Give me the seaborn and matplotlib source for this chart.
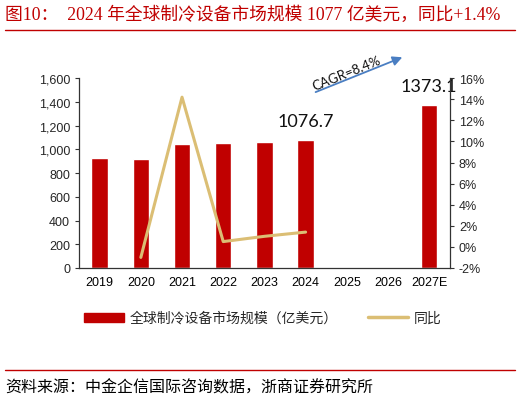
import numpy as np
import pandas as pd
import matplotlib
matplotlib.use("Agg")
import matplotlib.pyplot as plt
from matplotlib.ticker import FuncFormatter, FixedLocator
from matplotlib.patches import Patch
from matplotlib.lines import Line2D
import seaborn as sns

# data
years = ["2019", "2020", "2021", "2022", "2023", "2024", "2025", "2026", "2027E"]
market_size = [925, 915, 1048, 1052, 1062, 1076.7, np.nan, np.nan, 1373.1]
yoy_years = ["2020", "2021", "2022", "2023", "2024"]
yoy_pct = [-1.0, 14.2, 0.5, 1.0, 1.4]
bar_label = "全球制冷设备市场规模（亿美元）"
line_label = "同比"
title = "图10：  2024 年全球制冷设备市场规模 1077 亿美元，同比+1.4%"
source = "资料来源：中金企信国际咨询数据，浙商证券研究所"

sns.set_style("white")
plt.rcParams["font.family"] = ["Liberation Sans", "Noto Sans CJK SC"]

RED = "#C00000"
TAN = "#DBBE74"

df = pd.DataFrame({"year": years, "size": market_size})
fig = plt.figure(figsize=(5.2, 4.02), dpi=100)
ax = fig.add_axes([0.152, 0.331, 0.713, 0.472])

sns.barplot(data=df, x="year", y="size", order=years, color=RED,
            width=0.4, ax=ax, saturation=1, errorbar=None)
ax.set_xlim(-0.5, len(years) - 0.5)
ax.set_ylim(0, 1600)
ax.set_yticks(np.arange(0, 1601, 200))
ax.yaxis.set_major_formatter(FuncFormatter(lambda v, p: f"{int(v):,}"))
ax.set_xlabel("")
ax.set_ylabel("")

ax2 = ax.twinx()
line_df = pd.DataFrame({"x": [years.index(y) for y in yoy_years], "yoy": yoy_pct})
sns.lineplot(data=line_df, x="x", y="yoy", ax=ax2, color=TAN, linewidth=2.2)
ax2.set_ylim(-2, 16)
ax2.set_yticks(np.arange(-2, 17, 2))
ax2.yaxis.set_major_formatter(FuncFormatter(lambda v, p: f"{int(v)}%"))
ax2.set_xlim(-0.5, len(years) - 0.5)
ax2.set_ylabel("")
ax2.set_xlabel("")

for s in ["top", "right"]:
    ax.spines[s].set_visible(False)
for s in ["top", "left", "bottom"]:
    ax2.spines[s].set_visible(False)
for sp in [ax.spines["left"], ax.spines["bottom"], ax2.spines["right"]]:
    sp.set_color("#333333")
    sp.set_linewidth(0.9)

ax.set_xticks(range(len(years)))
ax.set_xticklabels(years)
ax.xaxis.set_minor_locator(FixedLocator(np.arange(-0.5, len(years), 1)))
ax.tick_params(axis="x", which="major", length=0, labelsize=9, pad=6, colors="black")
ax.tick_params(axis="x", which="minor", length=4, direction="out", width=0.9, color="#333333")
ax.tick_params(axis="y", length=3, direction="out", labelsize=9, color="#333333")
ax2.tick_params(axis="y", length=3, direction="out", labelsize=9, color="#333333")

# value labels
for i in [5, 8]:
    ax.text(i, market_size[i] + 165, f"{market_size[i]:.1f}", ha="center", va="center",
            fontsize=13, family=["Lato", "DejaVu Sans"], color="#111111", clip_on=False)

# CAGR arrow
ax.annotate("", xy=(7.41, 1785), xytext=(5.18, 1474), annotation_clip=False,
            arrowprops=dict(arrowstyle="-|>", color="#4A7EC2", lw=1.3, mutation_scale=14))
ax.text(6.0, 1650, "CAGR=8.4%", rotation=22, ha="center", va="center",
        fontsize=9.5, family=["Lato", "DejaVu Sans"], color="#111111", clip_on=False)

# legend
handles = [Patch(color=RED, label=bar_label), Line2D([0], [0], color=TAN, lw=2.5, label=line_label)]
fig.legend(handles=handles, loc="center", bbox_to_anchor=(0.505, 1 - 319 / 402), ncol=2,
           frameon=False, handlelength=2.9, handleheight=0.6, columnspacing=2.2,
           handletextpad=0.4, prop={"family": ["Noto Sans CJK SC"], "size": 10})

# title and source
fig.text(0.01, 1 - 15 / 402, title, ha="left", va="center", fontsize=12.8, color=RED,
         family=["Liberation Serif", "Noto Sans CJK SC"])
fig.add_artist(plt.Line2D([0.01, 0.99], [1 - 31 / 402] * 2, color=RED, lw=1.0))
fig.add_artist(plt.Line2D([0.01, 0.99], [1 - 371 / 402] * 2, color=RED, lw=1.0))
fig.text(0.01, 1 - 388 / 402, source, ha="left", va="center", fontsize=11.5, color="black",
         family=["Noto Sans CJK SC"])

fig.savefig("out.png", dpi=100)
